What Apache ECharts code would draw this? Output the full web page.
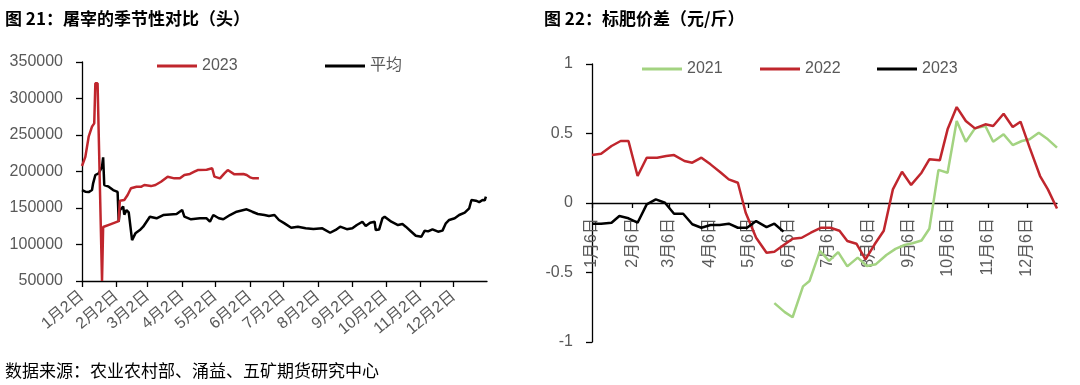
<!DOCTYPE html>
<html>
<head>
<meta charset="utf-8">
<script src="https://cdn.jsdelivr.net/npm/echarts@6/dist/echarts.min.js"></script>
<style>
html,body{margin:0;padding:0;background:#fff;}
#c{width:1080px;height:385px;}
</style>
</head>
<body>
<div id="c"></div>
<script>
// ---------- Left chart: 屠宰的季节性对比（头） ----------
const leftTickDates = ['01-02','02-02','03-02','04-02','05-02','06-02','07-02','08-02','09-02','10-02','11-02','12-02'];
const leftTickLabels = ['1月2日','2月2日','3月2日','4月2日','5月2日','6月2日','7月2日','8月2日','9月2日','10月2日','11月2日','12月2日'];
const leftYTicks = [50000, 350000, 50000]; // min, max, interval

const avgDates = ['01-02','01-05','01-08','01-11','01-12','01-14','01-17','01-20','01-21','01-22','01-26','01-30','02-03','02-04','02-05','02-08','02-09','02-11','02-13','02-16','02-19','02-23','02-26','03-04','03-10','03-16','03-28','04-02','04-04','04-10','04-18','04-24','04-27','04-30','05-05','05-09','05-15','05-21','05-30','06-04','06-09','06-15','06-19','06-24','06-28','07-03','07-09','07-15','07-22','07-29','08-06','08-13','08-18','08-22','08-28','09-02','09-06','09-11','09-14','09-18','09-22','09-23','09-26','09-29','10-01','10-07','10-13','10-17','10-20','10-25','10-29','11-03','11-06','11-09','11-13','11-18','11-22','11-25','11-28','12-03','12-07','12-12','12-16','12-18','12-22','12-25','12-28','12-30','12-31'];
const avgValues = [174600,172300,171800,174600,183800,195200,197500,206600,219400,181500,179200,174600,172000,131200,147000,152000,141000,147000,144000,106000,115300,119800,124400,138100,135900,140400,141800,147300,138100,134500,135900,135900,131200,140400,136000,134500,140400,144900,148200,144900,141800,140400,139000,140400,133600,129000,123000,124400,122200,121200,122200,116100,120000,124400,121000,122200,126700,131200,125300,129900,131200,119800,120500,135900,138100,131200,126700,128000,124400,117500,112000,110600,118900,118000,120800,117500,119000,129000,133600,135900,140400,143600,149600,161000,160000,158000,161000,160500,165500];

const s2023Dates = ['01-02','01-05','01-08','01-11','01-13','01-14','01-16','01-20','01-21','01-28','02-04','02-05','02-09','02-12','02-15','02-20','02-24','02-27','03-05','03-09','03-14','03-20','03-26','03-31','04-04','04-09','04-13','04-16','04-24','04-29','05-01','05-06','05-10','05-13','05-19','05-27','05-30','06-02','06-05','06-10'];
const s2023Values = [207500,220000,247700,261400,266000,320800,321000,50000,124000,128000,132000,160000,161000,167800,177000,179200,179000,181500,180000,181500,186000,192800,190600,190600,195200,196600,199700,202000,202500,204400,193000,190600,197500,202000,196100,196600,195200,192000,190600,190600];

// ---------- Right chart: 标肥价差（元/斤） ----------
const rightTickDates = ['01-06','02-06','03-06','04-06','05-06','06-06','07-06','08-06','09-06','10-06','11-06','12-06'];
const rightTickLabels = ['1月6日','2月6日','3月6日','4月6日','5月6日','6月6日','7月6日','8月6日','9月6日','10月6日','11月6日','12月6日'];

const p2021Dates = ['05-26','06-03','06-09','06-17','06-22','06-30','07-07','07-14','07-21','07-29','08-05','08-12','08-20','08-27','09-03','09-09','09-16','09-22','09-29','10-06','10-13','10-20','10-27','11-04','11-10','11-18','11-25','12-02','12-08','12-15','12-22','12-29'];
const p2021Values = [-0.72,-0.785,-0.822,-0.6,-0.561,-0.345,-0.417,-0.353,-0.456,-0.393,-0.453,-0.44,-0.374,-0.33,-0.302,-0.29,-0.27,-0.185,0.238,0.218,0.59,0.441,0.537,0.554,0.441,0.494,0.417,0.446,0.458,0.506,0.458,0.398];

const p2022Dates = ['01-06','01-13','01-21','01-28','02-03','02-10','02-17','02-25','03-04','03-10','03-18','03-24','03-31','04-07','04-15','04-21','04-28','05-04','05-12','05-20','05-26','06-03','06-09','06-16','06-23','07-01','07-08','07-15','07-21','07-28','08-04','08-11','08-18','08-25','09-01','09-08','09-16','09-22','09-30','10-06','10-13','10-20','10-27','11-04','11-10','11-18','11-25','12-01','12-08','12-16','12-22','12-29'];
const p2022Values = [0.345,0.355,0.41,0.446,0.446,0.194,0.326,0.326,0.338,0.345,0.302,0.29,0.326,0.278,0.218,0.17,0.146,-0.07,-0.25,-0.358,-0.35,-0.297,-0.257,-0.25,-0.214,-0.178,-0.178,-0.2,-0.273,-0.293,-0.405,-0.297,-0.2,0.098,0.225,0.13,0.218,0.314,0.307,0.53,0.69,0.59,0.537,0.566,0.554,0.642,0.547,0.585,0.398,0.194,0.098,-0.04];

const p2023Dates = ['01-06','01-13','01-21','01-27','02-03','02-10','02-17','02-24','03-03','03-10','03-17','03-24','03-31','04-07','04-14','04-21','04-28','05-05','05-12','05-20','05-26','06-02'];
const p2023Values = [-0.149,-0.149,-0.142,-0.094,-0.11,-0.142,-0.01,0.026,0.002,-0.077,-0.077,-0.153,-0.178,-0.158,-0.158,-0.149,-0.178,-0.178,-0.13,-0.173,-0.149,-0.206];

// ---------- helpers ----------
// dates -> day number (days since 2023-01-01), used on a linear value axis
const DAY = 86400000;
const BASE = Date.UTC(2023, 0, 1);
function dayNum(md, year) {
  const p = md.split('-').map(Number);
  return Math.round((Date.UTC(year, p[0] - 1, p[1]) - BASE) / DAY);
}
function pairs(dates, vals) {
  return dates.map((d, i) => [dayNum(d, 2023), vals[i]]);
}
function labelFor(ticks, labels) {
  return function (v) {
    const i = ticks.indexOf(Math.round(v));
    return i >= 0 ? labels[i] : '';
  };
}

const FONT = "'Liberation Sans','Noto Sans CJK SC',sans-serif";
const GRAY = '#595959';
const RED = '#C0262D';
const GREEN = '#A3D381';
const BLACK = '#000000';

const leftTicks = leftTickDates.map(d => dayNum(d, 2023));
const rightTicks = rightTickDates.map(d => dayNum(d, 2023));

const axisLineStyle = { show: true, lineStyle: { color: '#000', width: 1.3 } };
const tickStyle = { show: true, length: 6, inside: false, lineStyle: { color: '#000', width: 1.3 } };
const labelText = { color: GRAY, fontSize: 16, fontFamily: FONT };

const RIGHT_GRID_H = 278;

const chart = echarts.init(document.getElementById('c'), null, { renderer: 'canvas' });

const legendBase = { itemWidth: 40, itemHeight: 3, icon: 'rect', itemGap: 5, textStyle: labelText };

chart.setOption({
  backgroundColor: '#fff',
  animation: false,
  textStyle: { fontFamily: FONT },
  graphic: [
    { type: 'text', left: 5, top: 10, style: { text: '图 21：屠宰的季节性对比（头）', font: "bold 17px 'Noto Sans CJK SC'", fill: '#000' } },
    { type: 'text', left: 544, top: 10, style: { text: '图 22：标肥价差（元/斤）', font: "bold 17px 'Noto Sans CJK SC'", fill: '#000' } },
    { type: 'text', left: 5, top: 362, style: { text: '数据来源：农业农村部、涌益、五矿期货研究中心', font: "17px 'Noto Sans CJK SC'", fill: '#000' } }
  ],
  legend: [
    Object.assign({ data: ['2023'], left: 152, top: 53 }, legendBase),
    Object.assign({ data: ['平均'], left: 320, top: 53 }, legendBase),
    Object.assign({ data: ['2021'], left: 637, top: 56 }, legendBase),
    Object.assign({ data: ['2022'], left: 755, top: 56 }, legendBase),
    Object.assign({ data: ['2023 '], left: 872, top: 56, formatter: n => n.trim() }, legendBase)
  ],
  grid: [
    { left: 82, top: 62, width: 405, height: 219, outerBoundsMode: 'none', containLabel: false },
    { left: 592, top: 64, width: 465, height: RIGHT_GRID_H, outerBoundsMode: 'none', containLabel: false }
  ],
  xAxis: [
    {
      gridIndex: 0, type: 'value',
      min: dayNum('01-02', 2023), max: dayNum('01-01', 2024),
      axisLine: axisLineStyle,
      axisTick: Object.assign({}, tickStyle, { customValues: leftTicks }),
      axisLabel: Object.assign({}, labelText, { customValues: leftTicks, rotate: 40, margin: 13, formatter: labelFor(leftTicks, leftTickLabels) }),
      splitLine: { show: false }
    },
    {
      gridIndex: 1, type: 'value', position: 'bottom',
      offset: -RIGHT_GRID_H / 2,
      min: dayNum('01-06', 2023), max: dayNum('12-29', 2023),
      axisLine: Object.assign({ onZero: false }, axisLineStyle),
      axisTick: Object.assign({}, tickStyle, { length: 5, customValues: rightTicks }),
      axisLabel: Object.assign({}, labelText, { customValues: rightTicks, rotate: 90, margin: 15, formatter: labelFor(rightTicks, rightTickLabels) }),
      splitLine: { show: false }
    }
  ],
  yAxis: [
    {
      gridIndex: 0, type: 'value', min: leftYTicks[0], max: leftYTicks[1], interval: leftYTicks[2],
      axisLine: axisLineStyle, axisTick: tickStyle,
      axisLabel: Object.assign({}, labelText, { margin: 19, formatter: v => String(v) }),
      splitLine: { show: false }
    },
    {
      gridIndex: 1, type: 'value', min: -1, max: 1, interval: 0.5,
      axisLine: axisLineStyle, axisTick: tickStyle,
      axisLabel: Object.assign({}, labelText, { margin: 19, formatter: v => String(v) }),
      splitLine: { show: false }
    }
  ],
  series: [
    { name: '平均', type: 'line', xAxisIndex: 0, yAxisIndex: 0, symbol: 'none', data: pairs(avgDates, avgValues), lineStyle: { color: BLACK, width: 2.5 }, itemStyle: { color: BLACK } },
    { name: '2023', type: 'line', xAxisIndex: 0, yAxisIndex: 0, symbol: 'none', data: pairs(s2023Dates, s2023Values), lineStyle: { color: RED, width: 2.5 }, itemStyle: { color: RED } },
    { name: '2021', type: 'line', xAxisIndex: 1, yAxisIndex: 1, symbol: 'none', data: pairs(p2021Dates, p2021Values), lineStyle: { color: GREEN, width: 2.5 }, itemStyle: { color: GREEN } },
    { name: '2022', type: 'line', xAxisIndex: 1, yAxisIndex: 1, symbol: 'none', data: pairs(p2022Dates, p2022Values), lineStyle: { color: RED, width: 2.5 }, itemStyle: { color: RED } },
    { name: '2023 ', type: 'line', xAxisIndex: 1, yAxisIndex: 1, symbol: 'none', data: pairs(p2023Dates, p2023Values), lineStyle: { color: BLACK, width: 2.5 }, itemStyle: { color: BLACK } }
  ]
});
</script>
</body>
</html>
